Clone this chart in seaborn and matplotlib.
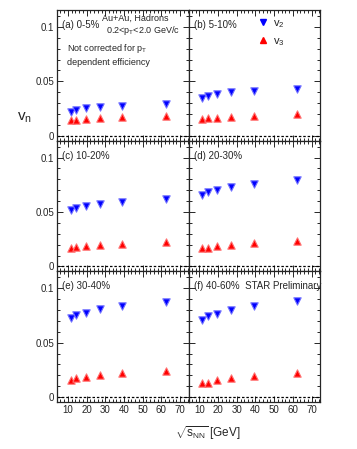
# ==========================================
# v2 and v3 vs collision energy, 6 centralities
# ==========================================

import numpy as np
import pandas as pd
import matplotlib
matplotlib.use("Agg")
import matplotlib.pyplot as plt
from matplotlib.ticker import MultipleLocator
from matplotlib.lines import Line2D
import seaborn as sns

# ------------------------------------------
# Data
# ------------------------------------------
energies = [11.5, 14.5, 19.6, 27.0, 39.0, 62.4]

centralities = ["0-5%", "5-10%", "10-20%", "20-30%", "30-40%", "40-60%"]
panel_tags = ["(a)", "(b)", "(c)", "(d)", "(e)", "(f)"]

v2_0_5 = [0.0220, 0.0235, 0.0255, 0.0265, 0.0275, 0.0290]
v2_5_10 = [0.0351, 0.0364, 0.0383, 0.0401, 0.0410, 0.0431]
v2_10_20 = [0.0518, 0.0534, 0.0552, 0.0576, 0.0588, 0.0618]
v2_20_30 = [0.0658, 0.0688, 0.0706, 0.0734, 0.0755, 0.0791]
v2_30_40 = [0.0724, 0.0755, 0.0773, 0.0809, 0.0833, 0.0875]
v2_40_60 = [0.0705, 0.0742, 0.0766, 0.0803, 0.0839, 0.0885]

v3_0_5 = [0.0144, 0.0144, 0.0153, 0.0159, 0.0168, 0.0181]
v3_5_10 = [0.0153, 0.0159, 0.0165, 0.0174, 0.0186, 0.0199]
v3_10_20 = [0.0173, 0.0179, 0.0185, 0.0197, 0.0209, 0.0227]
v3_20_30 = [0.0167, 0.0173, 0.0185, 0.0200, 0.0213, 0.0236]
v3_30_40 = [0.0160, 0.0173, 0.0182, 0.0200, 0.0218, 0.0239]
v3_40_60 = [0.0130, 0.0130, 0.0158, 0.0179, 0.0197, 0.0221]

v2_all = [v2_0_5, v2_5_10, v2_10_20, v2_20_30, v2_30_40, v2_40_60]
v3_all = [v3_0_5, v3_5_10, v3_10_20, v3_20_30, v3_30_40, v3_40_60]

rows = []
for cent, v2s, v3s in zip(centralities, v2_all, v3_all):
    for e, a, b in zip(energies, v2s, v3s):
        rows.append({"cent": cent, "energy": e, "harm": "v2", "vn": a})
        rows.append({"cent": cent, "energy": e, "harm": "v3", "vn": b})
df = pd.DataFrame(rows)

# ------------------------------------------
# Style
# ------------------------------------------
sns.set_style("ticks")
plt.rcParams["font.family"] = ["Liberation Sans", "DejaVu Sans"]
plt.rcParams["mathtext.fontset"] = "custom"
plt.rcParams["mathtext.rm"] = "Liberation Sans"
plt.rcParams["mathtext.it"] = "Liberation Sans"
plt.rcParams["mathtext.default"] = "regular"

BLUE = "#0000ff"
RED = "#ff0000"

fig = plt.figure(figsize=(3.57, 4.49), dpi=100)
left, right = 57 / 357, 320 / 357
top, bottom = 1 - 10 / 449, 1 - 402 / 449
gs = fig.add_gridspec(3, 2, left=left, right=right, top=top, bottom=bottom,
                      hspace=0, wspace=0)

for i, cent in enumerate(centralities):
    r, c = divmod(i, 2)
    ax = fig.add_subplot(gs[r, c])
    sub = df[df["cent"] == cent]

    sns.scatterplot(data=sub[sub["harm"] == "v2"], x="energy", y="vn",
                    marker="v", color=BLUE, s=28, linewidth=0.8,
                    edgecolor="#7070ff", ax=ax, legend=False, zorder=3)
    sns.scatterplot(data=sub[sub["harm"] == "v3"], x="energy", y="vn",
                    marker="^", color=RED, s=28, linewidth=0.8,
                    edgecolor="#ff7070", ax=ax, legend=False, zorder=3)

    ax.axhline(0, color="black", linestyle=(0, (2, 1.5)), linewidth=0.9)

    ax.set_xlim(4.2, 74.5)
    ax.set_ylim(-0.0045, 0.1155)
    ax.xaxis.set_major_locator(MultipleLocator(10))
    ax.xaxis.set_minor_locator(MultipleLocator(2))
    ax.yaxis.set_major_locator(MultipleLocator(0.05))
    ax.yaxis.set_minor_locator(MultipleLocator(0.01))
    ax.tick_params(which="both", direction="in", top=True, right=True,
                   labelsize=7, width=0.7, pad=2)
    ax.tick_params(which="major", length=4)
    ax.tick_params(which="minor", length=2)
    for sp in ax.spines.values():
        sp.set_linewidth(0.9)

    ax.set_xlabel("")
    ax.set_ylabel("")
    if c == 1:
        ax.set_yticklabels([])
    else:
        ax.set_yticks([0, 0.05, 0.1])
        ax.set_yticklabels(["0", "0.05", "0.1"])
    if r < 2:
        ax.set_xticklabels([])

    label = f"{panel_tags[i]} {cent}"
    if i == 5:
        label += "  STAR Preliminary"
    ax.text(0.04, 0.885, label, transform=ax.transAxes, fontsize=7,
            va="center", ha="left")

    if i == 0:
        ax.text(0.345, 0.935, "Au+Au, Hadrons", transform=ax.transAxes,
                fontsize=6.5, va="center", ha="left")
        ax.text(0.375, 0.84, "0.2<p$_{T}$<2.0 GeV/c", transform=ax.transAxes,
                fontsize=6.5, va="center", ha="left")
        ax.text(0.075, 0.705, "Not corrected for p$_{T}$", transform=ax.transAxes,
                fontsize=6.5, va="center", ha="left")
        ax.text(0.075, 0.595, "dependent efficiency", transform=ax.transAxes,
                fontsize=6.5, va="center", ha="left")

    if i == 1:
        handles = [
            Line2D([], [], marker="v", color=BLUE, linestyle="none",
                   markersize=4, label="v$_{2}$"),
            Line2D([], [], marker="^", color=RED, linestyle="none",
                   markersize=4, label="v$_{3}$"),
        ]
        ax.legend(handles=handles, loc="upper left",
                  bbox_to_anchor=(0.5, 0.97), frameon=False, fontsize=8,
                  handlelength=0.8, handletextpad=0.5, labelspacing=0.5,
                  borderaxespad=0)

fig.text(25 / 357, 1 - 118 / 449, "v$_{n}$", fontsize=11,
         ha="center", va="center")
fig.text(208 / 357, 1 - 433 / 449, r"$\sqrt{s_{NN}}$ [GeV]", fontsize=8.5,
         ha="center", va="center")

fig.savefig("out.png", dpi=100)
